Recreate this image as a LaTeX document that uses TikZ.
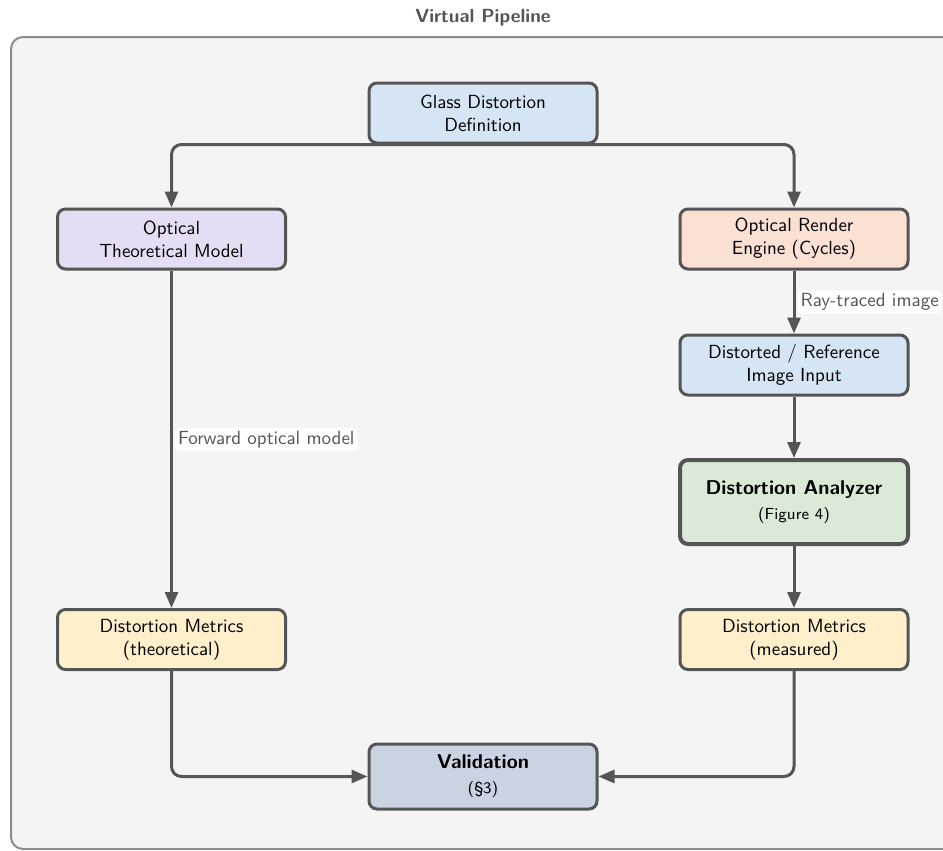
\documentclass[tikz,border=0pt]{standalone}
\usetikzlibrary{arrows.meta}
\renewcommand{\familydefault}{\sfdefault}
\definecolor{bgc}{HTML}{F4F4F4}
\definecolor{framec}{HTML}{8C8C8C}
\definecolor{linec}{HTML}{555555}
\definecolor{cblue}{HTML}{D6E5F4}
\definecolor{cviolet}{HTML}{E5DDF4}
\definecolor{cpeach}{HTML}{FBE1D4}
\definecolor{cgreen}{HTML}{DBEAD7}
\definecolor{cyellow}{HTML}{FFEFCB}
\definecolor{cslate}{HTML}{C9D3E1}
\begin{document}
\begin{tikzpicture}[x=0.5pt,y=-0.5pt,
  box/.style={draw=linec, line width=1.5pt, rounded corners=4pt, align=center,
    minimum width=114pt, minimum height=30pt, inner sep=2pt,
    font=\fontsize{9.5}{11.5}\selectfont, text=black},
  bigbox/.style={box, line width=2pt, minimum height=42pt},
  arr/.style={draw=linec, line width=1.5pt, rounded corners=5pt,
    -{Triangle[length=8pt,width=6.5pt]}},
  lab/.style={fill=white, rounded corners=2pt, inner sep=1.5pt, text=linec,
    font=\fontsize{9.5}{11.5}\selectfont}]
\clip (0,0) rectangle (943,851);
\fill[white] (0,0) rectangle (943,851);
\draw[draw=framec, fill=bgc, line width=1pt, rounded corners=6pt] (11,37) rectangle (960,849);
\node[text=linec, font=\fontsize{9.5}{11.5}\selectfont\bfseries] (title) at (483,18) {Virtual Pipeline};

\node[box, fill=cblue] (glass) at (483,113) {Glass Distortion\\Definition};
\node[box, fill=cviolet] (otm) at (171.5,239) {Optical\\Theoretical Model};
\node[box, fill=cpeach] (ore) at (794,239) {Optical Render\\Engine (Cycles)};
\node[box, fill=cblue] (dri) at (794,365) {Distorted / Reference\\Image Input};
\node[bigbox, fill=cgreen] (da) at (794,502) {{\fontsize{10}{12.5}\selectfont\bfseries Distortion Analyzer}\\[1pt]{\fontsize{8}{9.5}\selectfont (Figure 4)}};
\node[box, fill=cyellow] (dmt) at (171.5,639.5) {Distortion Metrics\\(theoretical)};
\node[box, fill=cyellow] (dmm) at (794,639.5) {Distortion Metrics\\(measured)};
\node[box, fill=cslate, minimum height=32.5pt] (val) at (483,776.5) {{\fontsize{10}{12.5}\selectfont\bfseries Validation}\\[1pt]{\fontsize{8}{9.5}\selectfont (\S3)}};

\draw[arr] (glass.south) -| (otm.north);
\draw[arr] (glass.south) -| (ore.north);
\draw[arr] (otm.south) -- node[lab, anchor=west, xshift=1pt] {Forward optical model} (dmt.north);
\draw[arr] (ore.south) -- node[lab, anchor=west, xshift=1pt] {Ray-traced image} (dri.north);
\draw[arr] (dri.south) -- (da.north);
\draw[arr] (da.south) -- (dmm.north);
\draw[arr] (dmt.south) |- (val.west);
\draw[arr] (dmm.south) |- (val.east);
\end{tikzpicture}
\end{document}
